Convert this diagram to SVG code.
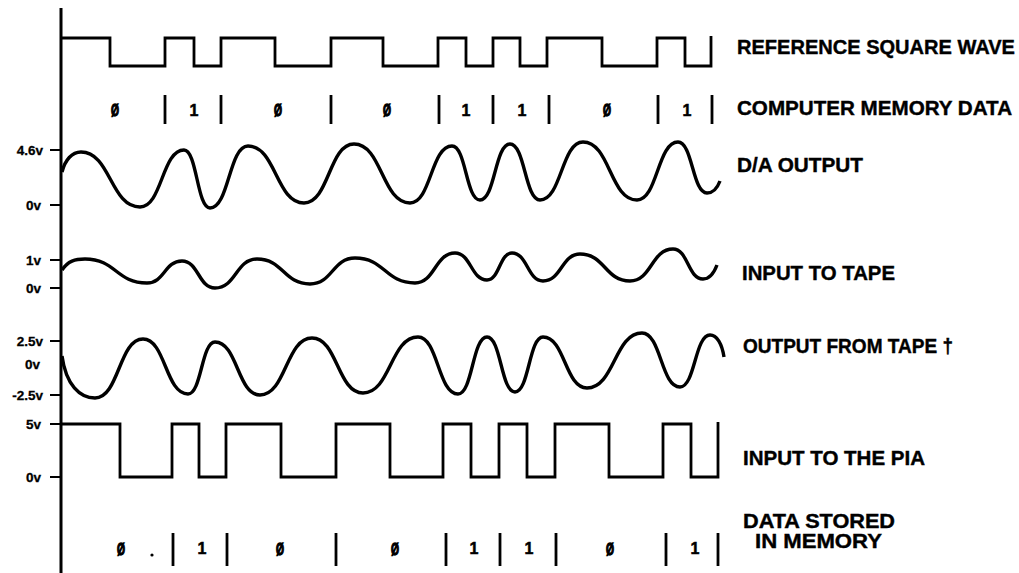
<svg xmlns="http://www.w3.org/2000/svg" width="1019" height="573" viewBox="0 0 1019 573">
<style>
.wave{fill:none;stroke:#000;stroke-width:3.4;stroke-linejoin:round;stroke-linecap:butt}
.sq{fill:none;stroke:#000;stroke-width:2.8;stroke-linejoin:miter}
.bar{stroke:#000;stroke-width:2.8}
.tick{stroke:#000;stroke-width:2}
.lbl{font-family:"Liberation Sans",Arial,sans-serif;font-weight:bold;font-size:20px;fill:#000;stroke:#000;stroke-width:0.4}
.ax{font-family:"Liberation Sans",Arial,sans-serif;font-weight:bold;font-size:13.5px;fill:#000;stroke:#000;stroke-width:0.3;text-anchor:end}
.dig{font-family:"Liberation Sans",Arial,sans-serif;font-weight:bold;font-size:16px;fill:#000;stroke:#000;stroke-width:0.5;text-anchor:middle}
.z{stroke-width:1.3}
</style>
<rect width="1019" height="573" fill="#fff"/>
<g id="axis">
<line x1="61" y1="8" x2="61" y2="573" stroke="#000" stroke-width="3"/>
<line class="tick" x1="50" y1="150" x2="61" y2="150"/>
<line class="tick" x1="50" y1="205" x2="61" y2="205"/>
<line class="tick" x1="50" y1="260" x2="61" y2="260"/>
<line class="tick" x1="50" y1="288" x2="61" y2="288"/>
<line class="tick" x1="50" y1="341" x2="61" y2="341"/>
<line class="tick" x1="50" y1="395" x2="61" y2="395"/>
<line class="tick" x1="50" y1="424" x2="61" y2="424"/>
<line class="tick" x1="50" y1="477" x2="61" y2="477"/>
<text class="ax" x="43" y="155">4.6v</text>
<text class="ax" x="41" y="210">0v</text>
<text class="ax" x="41" y="265">1v</text>
<text class="ax" x="41" y="293">0v</text>
<text class="ax" x="43" y="346">2.5v</text>
<text class="ax" x="40" y="369">0v</text>
<text class="ax" x="43" y="400">-2.5v</text>
<text class="ax" x="41" y="429">5v</text>
<text class="ax" x="41" y="482">0v</text>
</g>
<g id="reference-square-wave">
<path class="sq" d="M62,38 H110 V66 H165 V38 H194 V66 H221 V38 H275 V66 H331 V38 H383 V66 H438 V38 H466 V66 H493 V38 H520 V66 H547 V38 H602 V66 H657 V38 H685 V66 H711 V36"/>
<text class="lbl" x="737" y="54" textLength="278" lengthAdjust="spacingAndGlyphs">REFERENCE SQUARE WAVE</text>
</g>
<g id="computer-memory-data">
<g class="bar">
<line x1="165" y1="95" x2="165" y2="124"/><line x1="221" y1="95" x2="221" y2="124"/>
<line x1="331" y1="95" x2="331" y2="124"/><line x1="439" y1="95" x2="439" y2="124"/>
<line x1="493" y1="95" x2="493" y2="124"/><line x1="549" y1="95" x2="549" y2="124"/>
<line x1="658" y1="95" x2="658" y2="124"/><line x1="712" y1="95" x2="712" y2="124"/>
</g>
<text class="dig z" x="115" y="116" textLength="8" lengthAdjust="spacingAndGlyphs">Ø</text><text class="dig" x="194" y="116">1</text>
<text class="dig z" x="278" y="116" textLength="8" lengthAdjust="spacingAndGlyphs">Ø</text><text class="dig z" x="387" y="116" textLength="8" lengthAdjust="spacingAndGlyphs">Ø</text>
<text class="dig" x="466" y="116">1</text><text class="dig" x="522" y="116">1</text>
<text class="dig z" x="607" y="116" textLength="8" lengthAdjust="spacingAndGlyphs">Ø</text><text class="dig" x="687" y="116">1</text>
<text class="lbl" x="737" y="115" textLength="275" lengthAdjust="spacingAndGlyphs">COMPUTER MEMORY DATA</text>
</g>
<g id="da-output">
<path class="wave" d="M62,172 C65,160 72,152 81,152 C110.5,152 110.5,207 140,207 C162,207 162,150 184,150 C197,150 197,208 210,208 C229,208 229,146 248,146 C276,146 276,203 304,203 C329,203 329,144 354,144 C382,144 382,203 410,203 C431,203 431,146 452,146 C466,146 466,200 480,200 C495,200 495,144 510,144 C525,144 525,200 540,200 C561.5,200 561.5,142 583,142 C610,142 610,200 637,200 C657.5,200 657.5,142 678,142 C692.5,142 692.5,193 707,193 C713,193 717,189 720,181"/>
<text class="lbl" x="737" y="172" textLength="126" lengthAdjust="spacingAndGlyphs">D/A OUTPUT</text>
</g>
<g id="input-to-tape">
<path class="wave" d="M62,270 C68,261 75,259 85,259 C116,259 116,283 147,283 C164.5,283 164.5,261 182,261 C198.5,261 198.5,288 215,288 C236,288 236,259 257,259 C283.5,259 283.5,284 310,284 C332.5,284 332.5,258 355,258 C385,258 385,283 415,283 C435,283 435,253 455,253 C471,253 471,280 487,280 C499.5,280 499.5,253 512,253 C527.5,253 527.5,281 543,281 C561.5,281 561.5,254 580,254 C605,254 605,281 630,281 C651.5,281 651.5,249 673,249 C688,249 688,279 703,279 C710,279 714,273 717,265"/>
<text class="lbl" x="742" y="280" textLength="153" lengthAdjust="spacingAndGlyphs">INPUT TO TAPE</text>
</g>
<g id="output-from-tape">
<path class="wave" d="M62,356 C66,385 80,398 95,398 C119,398 119,339 143,339 C165.5,339 165.5,394 188,394 C201.5,394 201.5,342 215,342 C237.5,342 237.5,395 260,395 C286,395 286,338 312,338 C337.5,338 337.5,393 363,393 C390.5,393 390.5,337 418,337 C438,337 438,394 458,394 C472.5,394 472.5,337 487,337 C501,337 501,392 515,392 C529,392 529,337 543,337 C565,337 565,388 587,388 C614.5,388 614.5,333 642,333 C661,333 661,387 680,387 C695,387 695,335 710,335 C717,335 722,344 724,357"/>
<text class="lbl" x="743" y="353" textLength="210" lengthAdjust="spacingAndGlyphs">OUTPUT FROM TAPE †</text>
</g>
<g id="input-to-the-pia">
<path class="sq" d="M62,424 H120 V477 H172 V424 H199 V477 H226 V424 H281 V477 H336 V424 H390 V477 H443 V424 H471 V477 H499 V424 H527 V477 H555 V424 H609 V477 H663 V424 H691 V477 H718 V422"/>
<text class="lbl" x="743" y="465" textLength="182" lengthAdjust="spacingAndGlyphs">INPUT TO THE PIA</text>
</g>
<g id="data-stored-in-memory">
<g class="bar">
<line x1="173" y1="533" x2="173" y2="566"/><line x1="227" y1="533" x2="227" y2="566"/>
<line x1="336" y1="533" x2="336" y2="566"/><line x1="446" y1="533" x2="446" y2="566"/>
<line x1="500" y1="533" x2="500" y2="566"/><line x1="556" y1="533" x2="556" y2="566"/>
<line x1="666" y1="533" x2="666" y2="566"/><line x1="718" y1="533" x2="718" y2="566"/>
</g>
<circle cx="152" cy="555" r="1.6" fill="#000"/>
<text class="dig z" x="121" y="555" textLength="8" lengthAdjust="spacingAndGlyphs">Ø</text><text class="dig" x="202" y="554">1</text>
<text class="dig z" x="280" y="555" textLength="8" lengthAdjust="spacingAndGlyphs">Ø</text><text class="dig z" x="395" y="555" textLength="8" lengthAdjust="spacingAndGlyphs">Ø</text>
<text class="dig" x="474" y="554">1</text><text class="dig" x="529" y="554">1</text>
<text class="dig z" x="610" y="555" textLength="8" lengthAdjust="spacingAndGlyphs">Ø</text><text class="dig" x="695" y="554">1</text>
<text class="lbl" x="743" y="528" textLength="152" lengthAdjust="spacingAndGlyphs">DATA STORED</text>
<text class="lbl" x="755" y="548" textLength="127" lengthAdjust="spacingAndGlyphs">IN MEMORY</text>
</g>
</svg>
